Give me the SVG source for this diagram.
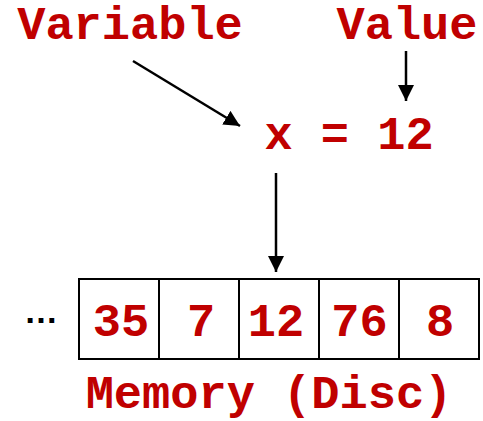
<svg xmlns="http://www.w3.org/2000/svg" width="483" height="421" viewBox="0 0 483 421">
<style>
.t{font-family:"Liberation Mono","Courier New",monospace;font-weight:bold;font-size:47px;fill:#C00000;text-anchor:middle}
.c{fill:#fff;stroke:#000;stroke-width:2}
.a{stroke:#000;stroke-width:2.5;fill:none}
</style>
<defs>
<marker id="ah" markerUnits="userSpaceOnUse" markerWidth="16" markerHeight="16" viewBox="0 0 16 16" refX="16" refY="8" orient="auto">
<path d="M0,0 L16,8 L0,16 Z" fill="#000"/>
</marker>
</defs>
<rect width="483" height="421" fill="#fff"/>
<g id="variable-label"><text class="t" x="130" y="39">Variable</text></g>
<g id="value-label"><text class="t" x="407" y="39">Value</text></g>
<g id="assignment"><text class="t" x="349" y="149">x = 12</text></g>
<g id="memory">
<rect class="c" x="79" y="279" width="80" height="80"/>
<rect class="c" x="159" y="279" width="80" height="80"/>
<rect class="c" x="239" y="279" width="80" height="80"/>
<rect class="c" x="319" y="279" width="80" height="80"/>
<rect class="c" x="399" y="279" width="80" height="80"/>
<text class="t" x="121" y="336">35</text>
<text class="t" x="201" y="336">7</text>
<text class="t" x="276" y="336">12</text>
<text class="t" x="359.5" y="336">76</text>
<text class="t" x="440" y="336">8</text>
</g>
<g id="ellipsis"><text x="41" y="323" font-family="Liberation Sans,Arial,sans-serif" font-weight="bold" font-size="34" text-anchor="middle" fill="#000">…</text></g>
<g id="memory-label"><text class="t" x="269" y="408">Memory (Disc)</text></g>
<g id="connectors">
<line class="a" x1="133" y1="61" x2="240" y2="126" marker-end="url(#ah)"/>
<line class="a" x1="406" y1="51" x2="406" y2="101" marker-end="url(#ah)"/>
<line class="a" x1="276" y1="173" x2="276" y2="272" marker-end="url(#ah)"/>
</g>
</svg>
